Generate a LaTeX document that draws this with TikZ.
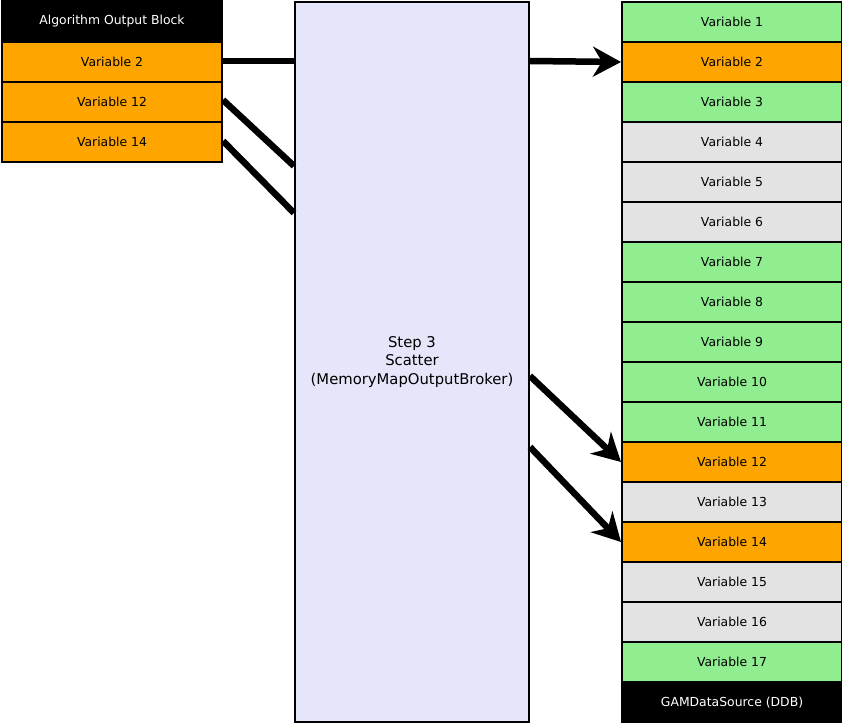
\documentclass[tikz,border=0pt]{standalone}
\usepackage{fontspec}
\setmainfont{DejaVu Sans}
\usetikzlibrary{arrows.meta}
\definecolor{vorange}{HTML}{FFA500}
\definecolor{vgreen}{HTML}{90EE90}
\definecolor{vgrey}{HTML}{E3E3E3}
\definecolor{vlav}{HTML}{E6E6FA}
\tikzset{
  cell/.style={draw=black, line width=2pt, minimum width=220pt, minimum height=40pt, inner sep=0pt, font=\fontsize{12.4}{14}\selectfont, anchor=north west},
  og/.style={cell, fill=vorange},
  gr/.style={cell, fill=vgreen},
  gy/.style={cell, fill=vgrey},
  bk/.style={cell, fill=black, text=white},
  conn/.style={line width=6.5pt, line cap=butt},
  arr/.style={conn, -{Stealth[length=28pt, width=30pt, inset=9pt]}}
}
\begin{document}
\begin{tikzpicture}[x=1pt,y=-1pt]
\useasboundingbox (0,0) rectangle (842,722);
% left block
\node[bk] (hdr) at (1,0) {Algorithm Output Block};
\node[og] (l2) at (1,41) {Variable 2};
\node[og] (l12) at (1,81) {Variable 12};
\node[og] (l14) at (1,121) {Variable 14};
% center
\node[draw=black, line width=2pt, fill=vlav, minimum width=234pt, minimum height=720pt, anchor=north west, inner sep=0pt, align=center, font=\fontsize{14.8}{18.5}\selectfont] (mid) at (294,1) {Step 3\\Scatter\\(MemoryMapOutputBroker)};
% right column
\node[gr] (r1) at (621,1) {Variable 1};
\node[og] (r2) at (621,41) {Variable 2};
\node[gr] (r3) at (621,81) {Variable 3};
\node[gy] (r4) at (621,121) {Variable 4};
\node[gy] (r5) at (621,161) {Variable 5};
\node[gy] (r6) at (621,201) {Variable 6};
\node[gr] (r7) at (621,241) {Variable 7};
\node[gr] (r8) at (621,281) {Variable 8};
\node[gr] (r9) at (621,321) {Variable 9};
\node[gr] (r10) at (621,361) {Variable 10};
\node[gr] (r11) at (621,401) {Variable 11};
\node[og] (r12) at (621,441) {Variable 12};
\node[gy] (r13) at (621,481) {Variable 13};
\node[og] (r14) at (621,521) {Variable 14};
\node[gy] (r15) at (621,561) {Variable 15};
\node[gy] (r16) at (621,601) {Variable 16};
\node[gr] (r17) at (621,641) {Variable 17};
\node[bk, minimum height=41pt] (ddb) at (621,681) {GAMDataSource (DDB)};
% connectors
\coordinate (s1) at (l2.east |- 0,61);
\coordinate (s2) at (l12.east |- 0,100);
\coordinate (s3) at (l14.east |- 0,141);
\coordinate (m1) at (mid.west |- 0,61);
\coordinate (m2) at (mid.west |- 0,166);
\coordinate (m3) at (mid.west |- 0,213);
\coordinate (o1) at (mid.east |- 0,61);
\coordinate (o2) at (mid.east |- 0,376);
\coordinate (o3) at (mid.east |- 0,447);
\draw[conn] (s1) -- (m1);
\draw[conn] (s2) -- (m2);
\draw[conn] (s3) -- (m3);
\draw[arr] (o1) -- (r2.west);
\draw[arr] (o2) -- (r12.west);
\draw[arr] (o3) -- (r14.west);
\end{tikzpicture}
\end{document}
